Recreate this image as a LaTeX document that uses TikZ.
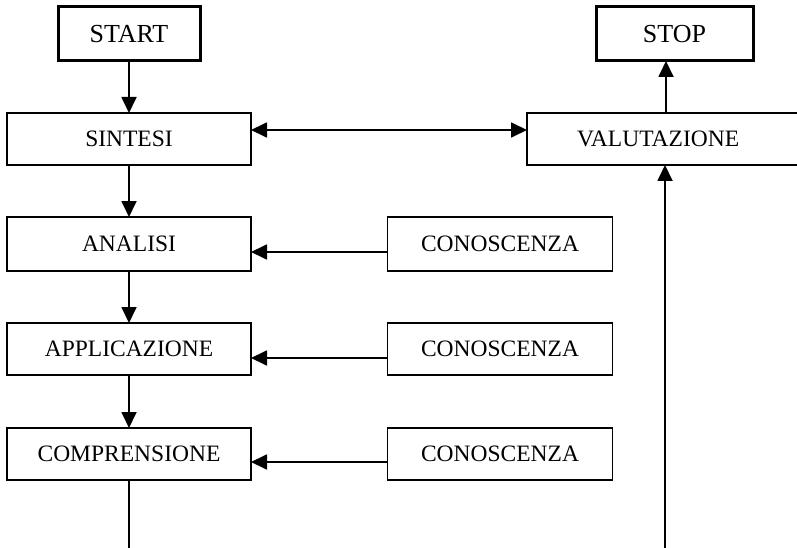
\documentclass[tikz,border=0pt]{standalone}
\usepackage{fontspec}
\setmainfont{Liberation Serif}
\usetikzlibrary{arrows.meta}
\begin{document}
\begin{tikzpicture}[x=1pt,y=-1pt,
  box/.style={draw, line width=1.6pt, rectangle, inner sep=0pt, outer sep=0pt, font=\fontsize{23.5}{26}\selectfont},
  endbox/.style={box, line width=3pt, font=\fontsize{26}{30}\selectfont},
  conn/.style={line width=1.8pt, -{Triangle[length=16pt,width=15pt]}},
  dconn/.style={line width=1.8pt, {Triangle[length=16pt,width=15pt]}-{Triangle[length=16pt,width=15pt]}},
  plain/.style={line width=1.8pt}]
\useasboundingbox (0,0) rectangle (797,548);
\clip (0,0) rectangle (797,548);
% left column
\node[endbox, minimum width=142pt, minimum height=54pt] (start) at (129,34) {START};
\node[box, minimum width=244pt, minimum height=52pt] (sintesi) at (129,139) {SINTESI};
\node[box, minimum width=244pt, minimum height=54pt] (analisi) at (129,244) {ANALISI};
\node[box, minimum width=244pt, minimum height=52pt] (applicazione) at (129,349) {APPLICAZIONE};
\node[box, minimum width=244pt, minimum height=52pt] (comprensione) at (129,454) {COMPRENSIONE};
% middle column
\node[box, minimum width=225pt, minimum height=54pt] (con1) at (500,244) {CONOSCENZA};
\node[box, minimum width=225pt, minimum height=52pt] (con2) at (500,349) {CONOSCENZA};
\node[box, minimum width=225pt, minimum height=52pt] (con3) at (500,454) {CONOSCENZA};
% right column
\node[endbox, minimum width=157pt, minimum height=54pt] (stop) at (674.5,34) {STOP};
\node[box, minimum width=290pt, minimum height=52pt, text width=270pt, align=left] (valutazione) at (672,139) {\hspace*{40pt}VALUTAZIONE};
\coordinate (stopin) at (666,61);
\coordinate (leftend) at (129,548);
\coordinate (rightend) at (665,548);
% connectors
\draw[conn] (start.south) -- (sintesi.north);
\draw[conn] (sintesi.south) -- (analisi.north);
\draw[conn] (analisi.south) -- (applicazione.north);
\draw[conn] (applicazione.south) -- (comprensione.north);
\draw[plain] (comprensione.south) -- (leftend);
\draw[dconn] ([yshift=9pt]sintesi.east) -- ([yshift=9pt]valutazione.west);
\draw[conn] ([yshift=-8pt]con1.west) -- ([yshift=-8pt]analisi.east);
\draw[conn] ([yshift=-9pt]con2.west) -- ([yshift=-9pt]applicazione.east);
\draw[conn] ([yshift=-8pt]con3.west) -- ([yshift=-8pt]comprensione.east);
\draw[conn] (rightend) -- (rightend |- valutazione.south);
\draw[conn] (stopin |- valutazione.north) -- (stopin);
\end{tikzpicture}
\end{document}
